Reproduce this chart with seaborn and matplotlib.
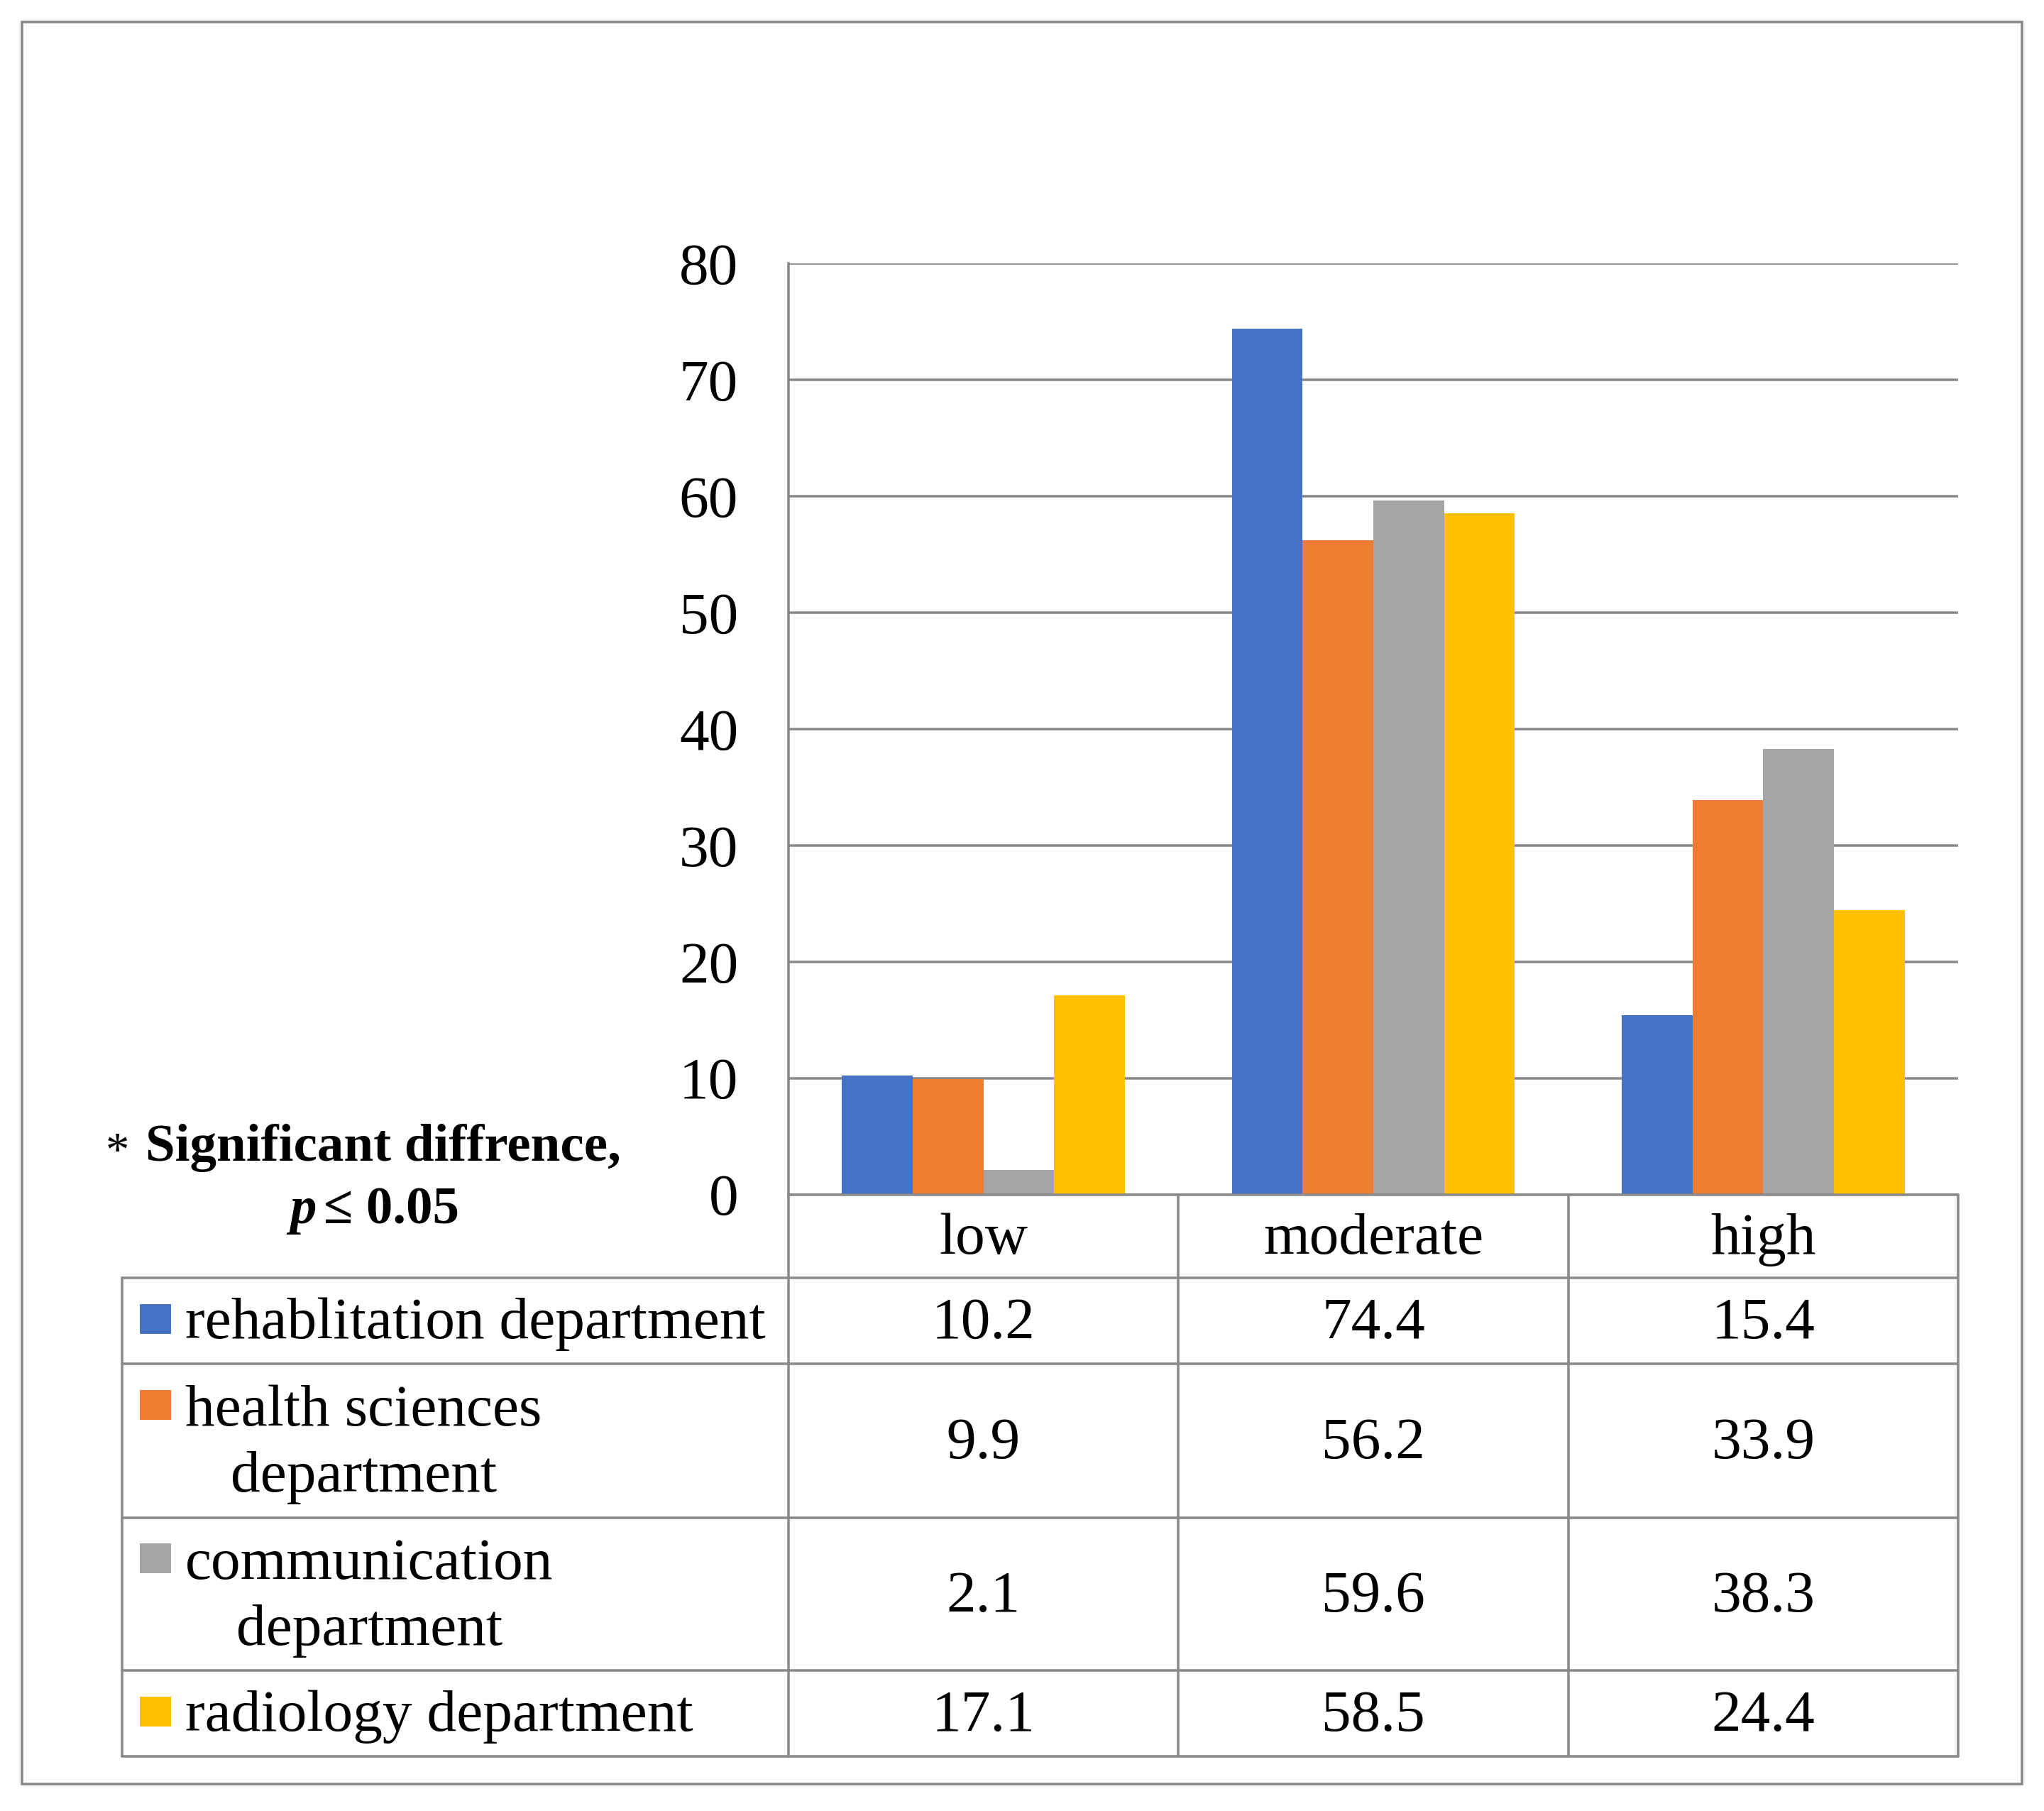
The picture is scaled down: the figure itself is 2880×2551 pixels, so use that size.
import numpy as np
import pandas as pd
import matplotlib
matplotlib.use('Agg')
import matplotlib.pyplot as plt
from matplotlib.lines import Line2D
from matplotlib.patches import Rectangle
from matplotlib.transforms import blended_transform_factory
import seaborn as sns

# data
categories = ['low', 'moderate', 'high']
departments = ['rehablitation department', 'health sciences department',
               'communication department', 'radiology department']
row_labels = ['rehablitation department', 'health sciences\ndepartment',
              'communication\ndepartment', 'radiology department']
rehab = [10.2, 74.4, 15.4]
health = [9.9, 56.2, 33.9]
comm = [2.1, 59.6, 38.3]
radio = [17.1, 58.5, 24.4]
yticks = [0, 10, 20, 30, 40, 50, 60, 70, 80]
colors = ['#4472C4', '#ED7D31', '#A5A5A5', '#FFC000']

values = [rehab, health, comm, radio]
df = pd.DataFrame({
    'category': categories * 4,
    'department': np.repeat(departments, 3),
    'value': rehab + health + comm + radio,
})

sns.set_style('white')
plt.rcParams['font.family'] = ['Liberation Serif', 'DejaVu Serif']
plt.rcParams['text.color'] = 'black'
plt.rcParams['ytick.color'] = 'black'
FS = 20
GRAY = '#898989'
LW = 0.85

W, H = 2880, 2551
fig = plt.figure(figsize=(W / 300, H / 300), dpi=300)


def fy(py):
    return 1 - py / H


ax_left, ax_right = 1111 / W, 2759 / W
ax_top, ax_bot = fy(371), fy(1682.5)
ax = fig.add_axes([ax_left, ax_bot, ax_right - ax_left, ax_top - ax_bot])

sns.barplot(data=df, x='category', y='value', hue='department',
            order=categories, hue_order=departments, palette=colors,
            saturation=1, width=0.726, legend=False, linewidth=0, ax=ax)

ax.set_xlim(-0.5, 2.5)
ax.set_ylim(0, 80)
ax.set_yticks(yticks)
ax.set_yticklabels([str(t) for t in yticks], fontsize=FS, color='black')
ax.set_xticks([])
ax.set_xlabel('')
ax.set_ylabel('')
ax.tick_params(axis='y', length=0, pad=17)
ax.yaxis.grid(True, color=GRAY, lw=LW)
ax.set_axisbelow(True)
for s in ['top', 'right', 'bottom']:
    ax.spines[s].set_visible(False)
ax.spines['left'].set_color(GRAY)
ax.spines['left'].set_linewidth(LW)

# table under the axes
bt = blended_transform_factory(ax.transData, fig.transFigure)
label_left = 172 / W
rows_px = [1682.5, 1800, 1921, 2138, 2353, 2474]
rows = [fy(p) for p in rows_px]
col_edges = [-0.5, 0.5, 1.5, 2.5]
dy = -5 / H  # small nudge down for the cell texts

fig.add_artist(Line2D([-0.5, 2.5], [rows[0], rows[0]], transform=bt,
                      color=GRAY, lw=LW, clip_on=False))
for r in rows[1:]:
    fig.add_artist(Line2D([label_left, ax_right], [r, r],
                          transform=fig.transFigure, color=GRAY, lw=LW))
fig.add_artist(Line2D([label_left, label_left], [rows[1], rows[-1]],
                      transform=fig.transFigure, color=GRAY, lw=LW))
for c in col_edges:
    fig.add_artist(Line2D([c, c], [rows[0], rows[-1]], transform=bt,
                          color=GRAY, lw=LW, clip_on=False))

# header row
for i, cat in enumerate(categories):
    fig.text(i, (rows[0] + rows[1]) / 2 + dy, cat, transform=bt,
             ha='center', va='center', fontsize=FS)

# data rows
sq_w, sq_h = 44 / W, 42 / H
line_gap = 96 / H
for k, (lab, vals, col) in enumerate(zip(row_labels, values, colors)):
    yc = (rows[k + 1] + rows[k + 2]) / 2
    for i, v in enumerate(vals):
        fig.text(i, yc + dy, f'{v:.1f}', transform=bt, ha='center',
                 va='center', fontsize=FS)
    nlines = lab.count('\n') + 1
    first = yc + (nlines - 1) * line_gap / 2
    fig.add_artist(Rectangle((197 / W, first - sq_h / 2 + 0.001), sq_w, sq_h,
                             transform=fig.transFigure, color=col, lw=0))
    fig.text(261 / W, yc + dy, lab, ha='left', va='center', fontsize=FS,
             multialignment='center', linespacing=1.3)

# note on the left
fig.text(165 / W, fy(1625), '*', ha='center', va='center', fontsize=FS - 4)
fig.text(205 / W, fy(1617), 'Significant diffrence,', ha='left',
         va='center', fontsize=FS - 2, fontweight='bold')
fig.text(446 / W, fy(1705), 'p', ha='right', va='center', fontsize=FS - 2,
         fontweight='bold', fontstyle='italic')
fig.text(456 / W, fy(1705), '\u2264 0.05', ha='left', va='center',
         fontsize=FS - 2, fontweight='bold')

# outer frame
fig.add_artist(Rectangle((31 / W, fy(2513)), (2849 - 31) / W,
                         (2513 - 31) / H, transform=fig.transFigure,
                         fill=False, edgecolor=GRAY, lw=LW))

fig.savefig('out.png', dpi=300)
